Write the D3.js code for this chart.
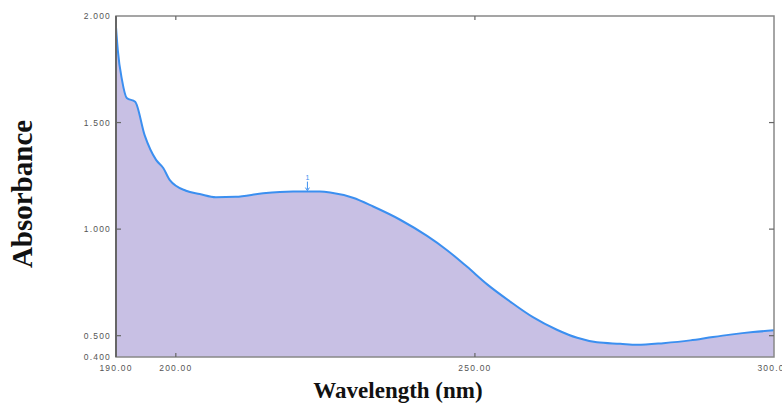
<!doctype html>
<html lang="en">
<head>
<meta charset="utf-8">
<title>Absorbance spectrum</title>
<script src="https://cdn.jsdelivr.net/npm/d3@7"></script>
<style>
  body { margin: 0; background: #fff; }
  .tick-label { font-family: "Liberation Sans", Arial, sans-serif; font-size: 8.5px; fill: #555; letter-spacing: 1.2px; }
  .axis-title { font-family: "Liberation Serif", "Times New Roman", serif; font-weight: bold; fill: #111; }
</style>
</head>
<body>
<script>
// spectrum
var wavelength = [190.0, 190.3, 191.0, 191.8, 193.2, 194.8, 196.7, 197.9, 199.0, 201.7, 204.0, 206.7,
                  210.0, 214.6, 219.6, 224.1, 225.8, 229.6, 233.0, 237.5, 242.0, 245.4, 248.7, 252.0,
                  255.9, 259.7, 263.7, 267.1, 270.4, 274.3, 277.1, 281.5, 286.0, 289.8, 292.7, 296.5, 300.0];
var absorbance = [1.948, 1.84, 1.70, 1.615, 1.598, 1.44, 1.325, 1.287, 1.23, 1.18, 1.165, 1.15,
                  1.152, 1.168, 1.176, 1.176, 1.172, 1.147, 1.106, 1.044, 0.968, 0.9, 0.823, 0.742,
                  0.66, 0.587, 0.528, 0.49, 0.469, 0.462, 0.457, 0.465, 0.478, 0.494, 0.505, 0.517, 0.525];
var yTicks = [2.0, 1.5, 1.0, 0.5, 0.4];
var xTicks = [190, 200, 250, 300];
var peakWl = 222.0, peakAbs = 1.176;

var W = 782, H = 403;
var pLeft = 116, pRight = 774, pTop = 16, pBottom = 357;

var svg = d3.select("body").append("svg").attr("width", W).attr("height", H);

var x = d3.scaleLinear().domain([190, 300]).range([pLeft, pRight]);
var y = d3.scaleLinear().domain([0.4, 2.0]).range([pBottom, pTop]);

var pts = wavelength.map(function(w, i){ return [w, absorbance[i]]; });

var area = d3.area()
    .x(function(d){ return x(d[0]); })
    .y0(y(0.4))
    .y1(function(d){ return y(d[1]); })
    .curve(d3.curveMonotoneX);
svg.append("path").datum(pts).attr("d", area).attr("fill", "#c8c0e4");

var line = d3.line()
    .x(function(d){ return x(d[0]); })
    .y(function(d){ return y(d[1]); })
    .curve(d3.curveMonotoneX);
svg.append("path").datum(pts).attr("d", line)
    .attr("fill", "none").attr("stroke", "#3b8ff0").attr("stroke-width", 2);

// frame
svg.append("rect").attr("x", pLeft).attr("y", pTop)
    .attr("width", pRight - pLeft).attr("height", pBottom - pTop)
    .attr("fill", "none").attr("stroke", "#888").attr("stroke-width", 1.5);
svg.append("line").attr("x1", pLeft).attr("x2", pLeft).attr("y1", pTop).attr("y2", pBottom)
    .attr("stroke", "#666").attr("stroke-width", 2);

// inward ticks
var g = svg.append("g").attr("stroke", "#666").attr("stroke-width", 1.2);
[1.5, 1.0, 0.5].forEach(function(v){
  g.append("line").attr("x1", pLeft).attr("x2", pLeft + 5).attr("y1", y(v)).attr("y2", y(v));
  g.append("line").attr("x1", pRight).attr("x2", pRight - 5).attr("y1", y(v)).attr("y2", y(v));
});
[200, 250].forEach(function(v){
  g.append("line").attr("x1", x(v)).attr("x2", x(v)).attr("y1", pBottom).attr("y2", pBottom - 4);
  g.append("line").attr("x1", x(v)).attr("x2", x(v)).attr("y1", pTop).attr("y2", pTop + 4);
});

// tick labels
svg.selectAll(".ylab").data(yTicks).enter().append("text")
    .attr("class", "tick-label")
    .attr("x", pLeft - 5).attr("y", function(d){ return y(d) + 3; })
    .attr("text-anchor", "end")
    .text(function(d){ return d.toFixed(3); });
svg.selectAll(".xlab").data(xTicks).enter().append("text")
    .attr("class", "tick-label")
    .attr("x", function(d){ return x(d); }).attr("y", pBottom + 14)
    .attr("text-anchor", "middle")
    .text(function(d){ return d.toFixed(2); });

// peak pick marker
svg.append("line").attr("x1", x(peakWl)).attr("x2", x(peakWl))
    .attr("y1", y(peakAbs) - 10).attr("y2", y(peakAbs) - 2)
    .attr("stroke", "#3b8ff0").attr("stroke-width", 1);
svg.append("path")
    .attr("d", "M" + (x(peakWl) - 2) + "," + (y(peakAbs) - 4) + " L" + x(peakWl) + "," + (y(peakAbs) - 1) + " L" + (x(peakWl) + 2) + "," + (y(peakAbs) - 4))
    .attr("fill", "none").attr("stroke", "#3b8ff0").attr("stroke-width", 1);
svg.append("text").attr("x", x(peakWl)).attr("y", y(peakAbs) - 12)
    .attr("text-anchor", "middle").attr("fill", "#3b8ff0")
    .style("font-family", "Liberation Sans, sans-serif").style("font-size", "7px")
    .text("1");

// axis titles
svg.append("text").attr("class", "axis-title")
    .attr("x", 398).attr("y", 398)
    .attr("text-anchor", "middle").style("font-size", "23px")
    .text("Wavelength (nm)");
svg.append("text").attr("class", "axis-title")
    .attr("transform", "translate(32,194) rotate(-90)")
    .attr("text-anchor", "middle").style("font-size", "29px")
    .text("Absorbance");
</script>
</body>
</html>
